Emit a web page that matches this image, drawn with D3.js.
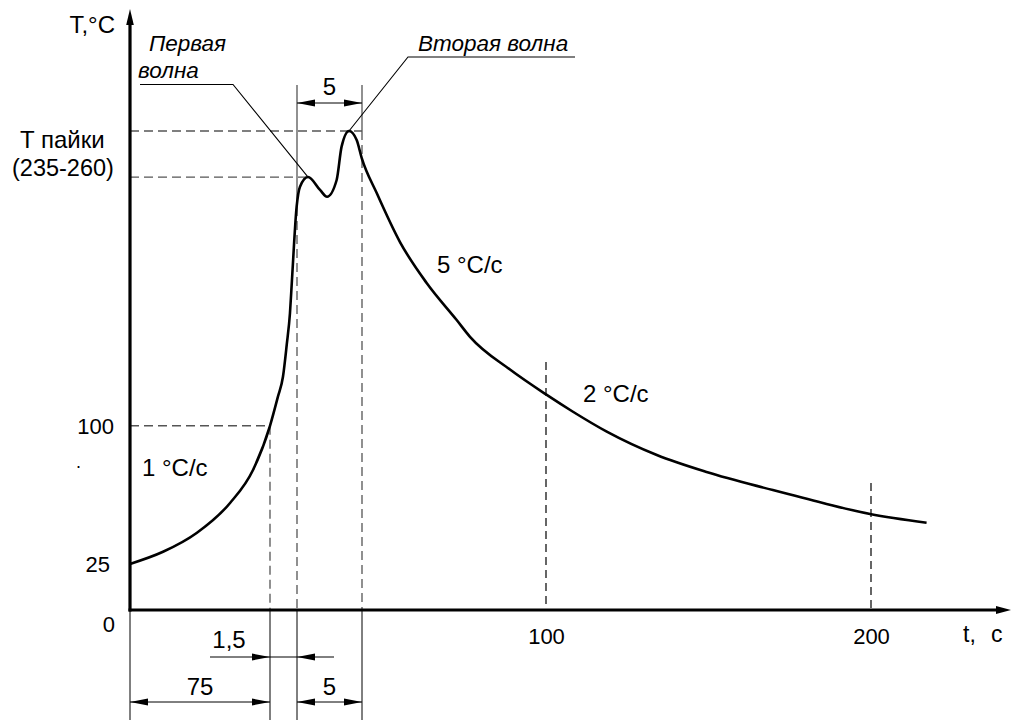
<!DOCTYPE html>
<html><head><meta charset="utf-8">
<script src="https://cdn.jsdelivr.net/npm/d3@7"></script>
<style>
body{margin:0;background:#fff}
text{font-family:"Liberation Sans",Arial,sans-serif;fill:#000}
</style>
</head><body>
<svg id="c" width="1014" height="720"></svg>
<script>
// ---- data (schematic soldering profile) ----
const timeBreaks = [0, 75, 76.5, 81.5, 100, 200];          // schematic (non-uniform) time axis
const xTickValues = [100, 200];
const yTickValues = [25, 100];
const solderTemps = [235, 260];                            // T пайки (235-260)
const profileTime = [0, 17.7, 35.7, 53.6, 65.9, 75, 75.44, 75.72, 75.93, 76.11, 76.22, 76.48, 76.73,
  77.35, 78.27, 78.81, 79.55, 79.93, 80.5, 81.09, 81.48, 82.98, 85.32, 88.0, 91.02, 92.36, 96.38,
  100, 108.3, 118.7, 134.1, 149.4, 169.8, 185.2, 199.7, 217.1];
const profileTemp = [25, 31.6, 41.8, 58.1, 76, 100, 115.8, 126.6, 144, 161.2, 179.1, 218.9, 229.8,
  235, 228, 224.3, 233.4, 251.5, 260, 255.1, 245.3, 226.3, 199.7, 177.5, 157.4, 148.3, 130.5,
  117, 107.6, 96.8, 84.1, 74.9, 65.1, 58.1, 52.1, 47.4];
const rateLabels = ["1 °C/с", "5 °C/с", "2 °C/с"];
const dims = [{a: 76.5, b: 81.5, label: "5"}, {a: 0, b: 75, label: "75"}, {a: 76.5, b: 81.5, label: "5"}, {a: 75, b: 76.5, label: "1,5"}];

// ---- scales ----
const svg = d3.select("#c");
const x = d3.scaleLinear().domain(timeBreaks).range([130, 270, 297, 362, 546, 871]);
const y = d3.scaleLinear().domain([0, 260]).range([610, 131]);
const X0 = x(0), Y0 = y(0);
const FONT = '"Liberation Sans",Arial,sans-serif';

const pts = profileTime.map((t, i) => [t, profileTemp[i]]);
const iPeak1 = profileTemp.indexOf(solderTemps[0]), iPeak2 = profileTemp.indexOf(solderTemps[1]);
const p1 = [x(profileTime[iPeak1]), y(solderTemps[0])], p2 = [x(profileTime[iPeak2]), y(solderTemps[1])];

function line(x1, y1, x2, y2, w, col, dash) {
  svg.append("line").attr("x1", x1).attr("y1", y1).attr("x2", x2).attr("y2", y2)
    .attr("stroke", col || "#000").attr("stroke-width", w || 1)
    .attr("stroke-dasharray", dash || null);
}
function arrow(tx, ty, dir, len, hw) { // dir: 'l','r','u'
  len = len || 18; hw = hw || 3.5;
  let p;
  if (dir === "r") p = [[tx, ty], [tx - len, ty - hw], [tx - len, ty + hw]];
  else if (dir === "l") p = [[tx, ty], [tx + len, ty - hw], [tx + len, ty + hw]];
  else p = [[tx, ty], [tx - hw, ty + len], [tx + hw, ty + len]];
  svg.append("path").attr("d", "M" + p.join("L") + "Z").attr("fill", "#000");
}
function text(s, tx, ty, anchor, size, italic) {
  svg.append("text").attr("x", tx).attr("y", ty).attr("text-anchor", anchor || "start")
    .attr("font-size", size || 22).attr("font-style", italic ? "italic" : null).text(s);
}

const DASH = "9,5", GRAY = "#555";

// ---- helper dashed lines ----
line(X0, y(100), x(75), y(100), 1.3, GRAY, DASH);
line(X0, p1[1], p1[0], p1[1], 1.3, GRAY, DASH);
line(X0, p2[1], x(81.5), p2[1], 1.3, GRAY, DASH);
line(x(75), y(100), x(75), Y0, 1.3, GRAY, DASH);
line(x(76.5), 85, x(76.5), 207, 1.3, GRAY);
line(x(76.5), 207, x(76.5), Y0, 1.3, GRAY, DASH);
line(x(81.5), 85, x(81.5), p2[1], 1.3, GRAY);
line(x(81.5), p2[1], x(81.5), Y0, 1.3, GRAY, DASH);
line(x(100), 362, x(100), Y0, 1.2, "#000", "8,5");
line(x(200), 483, x(200), Y0, 1.2, "#000", "8,5");

// extension lines below the axis
[0, 75, 76.5, 81.5].forEach(t => line(x(t), Y0, x(t), 720, 1, "#000"));

// ---- curve ----
svg.append("path").datum(pts)
  .attr("d", d3.line().x(d => x(d[0])).y(d => y(d[1])).curve(d3.curveMonotoneX))
  .attr("fill", "none").attr("stroke", "#000").attr("stroke-width", 2.6);

// ---- axes ----
line(X0, Y0 + 1.5, X0, 22, 3.2);
arrow(X0, 9, "u", 16, 3.8);
line(X0 - 1.5, Y0, 998, Y0, 3.2);
arrow(1011, Y0, "r", 15, 4);

const yAx = svg.append("g").attr("transform", `translate(${X0 - 16},0)`)
  .call(d3.axisLeft(y).tickValues(yTickValues).tickSize(0).tickPadding(0));
yAx.select(".domain").remove();
yAx.selectAll("text").attr("font-size", 22).attr("font-family", FONT)
  .attr("fill", "#000").attr("dy", "0.36em");
yAx.selectAll(".tick").filter(d => d === 25).select("text").attr("x", -4);

const xAx = svg.append("g").attr("transform", `translate(0,${Y0 + 18})`)
  .call(d3.axisBottom(x).tickValues(xTickValues).tickSize(0).tickPadding(0));
xAx.select(".domain").remove();
xAx.selectAll("text").attr("font-size", 22).attr("font-family", FONT)
  .attr("fill", "#000");

text("0", 115, 632, "end");
text("T,°C", 115, 33, "end", 24);
text("t,", 963, 642, "start", 23);
text("с", 991, 642, "start", 23);
text("T пайки", 20, 148, "start", 24);
text("(235-260)", 12, 176, "start", 23.5);
text(".", 76, 468, "start", 18);

// rates
text(rateLabels[0], 142, 476, "start", 24);
text(rateLabels[1], 437, 273, "start", 24);
text(rateLabels[2], 583, 402, "start", 24);

// ---- wave annotations ----
text("Первая", 149, 51, "start", 22.5, true);
text("волна", 138, 78, "start", 22.5, true);
svg.append("path").attr("d", `M140,84.5L233,84.5L${p1[0]},${p1[1]}`).attr("fill", "none")
  .attr("stroke", "#000").attr("stroke-width", 1.1);
text("Вторая волна", 418, 51, "start", 22.5, true);
svg.append("path").attr("d", `M575,57L408,57L${p2[0]},${p2[1]}`).attr("fill", "none")
  .attr("stroke", "#000").attr("stroke-width", 1.1);

// ---- dimensions ----
// top 5
line(x(dims[0].a), 103, x(dims[0].b), 103, 1);
arrow(x(dims[0].a), 103, "l"); arrow(x(dims[0].b), 103, "r");
text(dims[0].label, (x(dims[0].a) + x(dims[0].b)) / 2, 95, "middle", 24);
// 75
line(x(dims[1].a), 702, x(dims[1].b), 702, 1);
arrow(x(dims[1].a), 702, "l"); arrow(x(dims[1].b), 702, "r");
text(dims[1].label, (x(dims[1].a) + x(dims[1].b)) / 2, 695, "middle", 24);
// bottom 5
line(x(dims[2].a), 702, x(dims[2].b), 702, 1);
arrow(x(dims[2].a), 702, "l"); arrow(x(dims[2].b), 702, "r");
text(dims[2].label, (x(dims[2].a) + x(dims[2].b)) / 2, 695, "middle", 24);
// 1,5 (arrows from outside)
line(x(dims[3].a) - 60, 657, x(dims[3].b) + 37, 657, 1);
arrow(x(dims[3].a), 657, "r"); arrow(x(dims[3].b), 657, "l");
text(dims[3].label, x(dims[3].a) - 41, 648, "middle", 24);
</script>
</body></html>
